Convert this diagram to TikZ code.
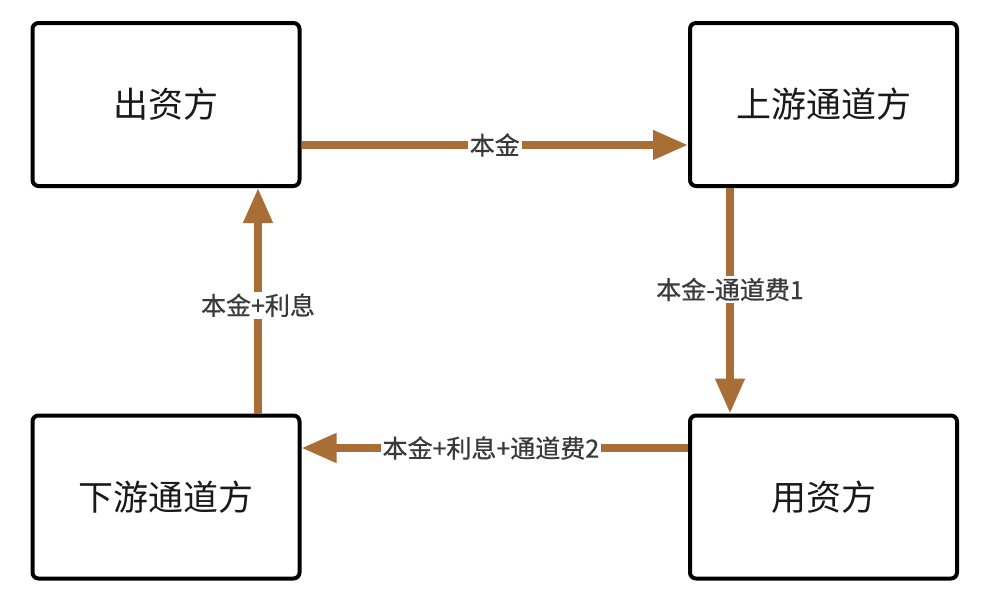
\documentclass[tikz,border=0pt]{standalone}
\usepackage{fontspec}
\setmainfont{Noto Sans CJK SC}
\newfontfamily\lblfont[FakeBold=0.7]{Noto Sans CJK SC}
\usetikzlibrary{arrows.meta}
\definecolor{flow}{HTML}{A96D36}
\definecolor{lbl}{HTML}{3A3A3A}
\begin{document}
\begin{tikzpicture}[x=1pt,y=-1pt,
  party/.style={draw=black, line width=4pt, rounded corners=6pt, fill=white,
    minimum width=267pt, minimum height=163pt, inner sep=0pt,
    font=\fontsize{35}{40}\selectfont, text=black!90},
  flowline/.style={draw=flow, line width=7.5pt,
    -{Triangle[length=35pt,width=28pt]}},
  flowlabel/.style={fill=white, text=lbl, inner sep=2pt,
    font=\lblfont\fontsize{25}{28}\selectfont}]
\useasboundingbox (0,0) rectangle (994,595);
\node[party] (src) at (166,104.5) {出资方};
\node[party] (up) at (823.5,104.5) {上游通道方};
\node[party] (down) at (166,497) {下游通道方};
\node[party] (user) at (823.5,497) {用资方};
\draw[flowline] ([yshift=-40.5pt]src.east) -- ([yshift=-40.5pt]up.west)
  node[flowlabel, midway] (l1) {本金};
\draw[flowline] ([xshift=-93.5pt]up.south) -- ([xshift=-93.5pt]user.north)
  node[flowlabel, pos=0.45] (l2) {本金-通道费1};
\draw[flowline] ([yshift=49pt]user.west) -- ([yshift=49pt]down.east)
  node[flowlabel, pos=0.51] (l3) {本金+利息+通道费2};
\draw[flowline] ([xshift=92pt]down.north) -- ([xshift=92pt]src.south)
  node[flowlabel, pos=0.48] (l4) {本金+利息};
\end{tikzpicture}
\end{document}
